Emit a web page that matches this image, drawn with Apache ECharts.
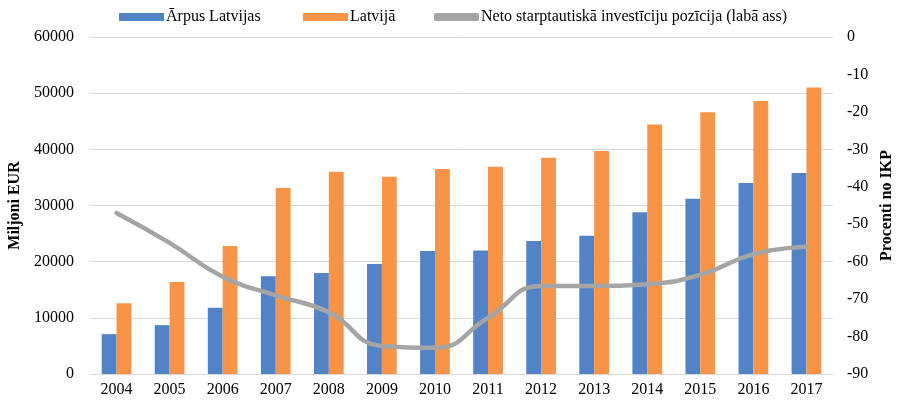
<!DOCTYPE html>
<html>
<head>
<meta charset="utf-8">
<script src="https://cdn.jsdelivr.net/npm/echarts@6/dist/echarts.min.js"></script>
<style>
  html, body { margin: 0; padding: 0; background: #fff; }
  #chart { width: 897px; height: 401px; }
</style>
</head>
<body>
<div id="chart"></div>
<script>
const years = ['2004', '2005', '2006', '2007', '2008', '2009', '2010',
               '2011', '2012', '2013', '2014', '2015', '2016', '2017']

// Miljoni EUR
const arpus   = [7100, 8700, 11800, 17400, 18000, 19600, 21900,
                 22000, 23700, 24600, 28800, 31200, 34000, 35800]
const latvija = [12600, 16400, 22800, 33100, 36000, 35100, 36500,
                 36900, 38500, 39700, 44400, 46600, 48600, 51000]

// Procenti no IKP (right axis)
const neto = [-47, -55, -64, -69, -73.5, -82.5, -83,
              -75, -66.5, -66.5, -66, -63.5, -58, -56]

const COLOR_BLUE   = '#5283c6'
const COLOR_ORANGE = '#f79447'
const COLOR_GREY   = '#a5a5a5'
const FONT = '"Liberation Serif", "Times New Roman", serif'

const NAME_A = 'Ārpus Latvijas'
const NAME_L = 'Latvijā'
const NAME_N = 'Neto starptautiskā investīciju pozīcija (labā ass)'

const chart = echarts.init(document.getElementById('chart'))

const axisText = { color: '#000', fontSize: 16, fontFamily: FONT }

// one legend per item so each swatch can sit where the reference has it
const legendAt = (left, name, icon) => ({
  top: 9, left, padding: 0,
  itemWidth: 45, itemHeight: 8,
  textStyle: { color: '#000', fontSize: 16, fontFamily: FONT, padding: [0, 0, 0, -3] },
  data: [{ name, icon }],
})

chart.setOption({
  animation: false,
  textStyle: { fontFamily: FONT },
  legend: [
    legendAt(119, NAME_A, 'rect'),
    legendAt(303, NAME_L, 'rect'),
    legendAt(434, NAME_N, 'roundRect'),
  ],
  grid: { left: 90, right: 64, top: 37, bottom: 27, outerBoundsMode: 'none' },
  xAxis: {
    type: 'category',
    data: years,
    axisLine: { lineStyle: { color: '#d9d9d9', width: 1 } },
    axisTick: { show: false },
    axisLabel: { ...axisText, margin: 8 },
  },
  yAxis: [
    {
      type: 'value',
      min: 0, max: 60000, interval: 10000,
      name: 'Miljoni EUR',
      nameLocation: 'middle',
      nameRotate: 90,
      nameGap: 63,
      nameTextStyle: { ...axisText, fontWeight: 'bold' },
      axisLine: { show: false },
      axisTick: { show: false },
      axisLabel: { ...axisText, margin: 16, formatter: v => String(v) },
      splitLine: { lineStyle: { color: '#d9d9d9', width: 1 } },
    },
    {
      type: 'value',
      min: -90, max: 0, interval: 10,
      position: 'right',
      name: 'Procenti no IKP',
      nameLocation: 'middle',
      nameRotate: 90,
      nameGap: 46,
      nameTextStyle: { ...axisText, fontWeight: 'bold' },
      axisLine: { show: false },
      axisTick: { show: false },
      axisLabel: { ...axisText, margin: 14 },
      splitLine: { show: false },
    },
  ],
  series: [
    {
      name: NAME_A,
      type: 'bar',
      data: arpus,
      barWidth: '28%',
      barGap: '0%',
      itemStyle: { color: COLOR_BLUE },
    },
    {
      name: NAME_L,
      type: 'bar',
      data: latvija,
      barWidth: '28%',
      itemStyle: { color: COLOR_ORANGE },
    },
    {
      name: NAME_N,
      type: 'line',
      yAxisIndex: 1,
      data: neto,
      smooth: 0.5,
      symbol: 'none',
      lineStyle: { color: COLOR_GREY, width: 4.5, cap: 'round' },
      itemStyle: { color: COLOR_GREY },
    },
  ],
})
</script>
</body>
</html>
